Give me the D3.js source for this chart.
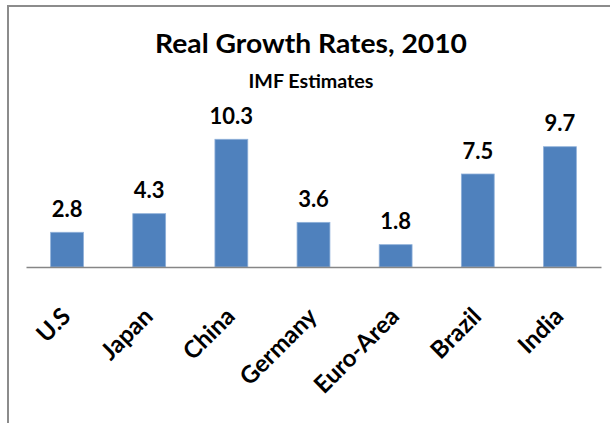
<!DOCTYPE html>
<html>
<head>
<meta charset="utf-8">
<script src="https://d3js.org/d3.v7.min.js"></script>
<style>
	body { margin:0; background:#fff; }
	text { font-family: Lato, "Open Sans", sans-serif; }
</style>
</head>
<body>
<svg id="grafico" width="610" height="423"></svg>
<script>
/* Real growth rates 2010, bar chart */

var paises = ["U.S", "Japan", "China", "Germany", "Euro-Area", "Brazil", "India"];
var tasas = [2.8, 4.3, 10.3, 3.6, 1.8, 7.5, 9.7];
var titulo = "Real Growth Rates, 2010";
var subtitulo = "IMF Estimates";

function init(){
	var lien = d3.select('#grafico');
	var base = 267;

	// marco
	lien.append("path")
		.attr("d", "M8,423 V6 H610")
		.attr("fill", "none")
		.attr("stroke", "#8c8c8c")
		.attr("stroke-width", 2);

	var x = d3.scaleBand()
		.domain(paises)
		.range([26, 601])
		.paddingInner(0.6)
		.paddingOuter(0.3);

	var y = d3.scaleLinear()
		.domain([0, 12])
		.range([base, base - 12.4*12]);

	// barras
	lien.selectAll(".barra")
		.data(tasas)
		.enter().append("rect")
		.attr("class", "barra")
		.attr("x", function(d,i){ return x(paises[i]); })
		.attr("y", function(d){ return y(d); })
		.attr("width", x.bandwidth())
		.attr("height", function(d){ return y(0) - y(d); })
		.attr("fill", "#4f81bd")
		.attr("stroke", "#8fb0d9")
		.attr("stroke-width", 0.8);

	// valores
	lien.selectAll(".valor")
		.data(tasas)
		.enter().append("text")
		.attr("class", "valor")
		.attr("x", function(d,i){ return x(paises[i]) + x.bandwidth()/2; })
		.attr("y", function(d){ return y(d) - 15.5; })
		.attr("text-anchor", "middle")
		.attr("font-size", 22)
		.attr("font-weight", "bold")
		.attr("fill", "#000")
		.text(function(d){ return d.toFixed(1); });

	// eje
	var eje = lien.append("g")
		.attr("transform", "translate(0," + base + ")")
		.call(d3.axisBottom(x).tickSize(0).tickPadding(0).tickFormat(""));
	eje.select(".domain").attr("stroke", "#868686").attr("stroke-width", 1.5);

	// etiquetas
	lien.selectAll(".pais")
		.data(paises)
		.enter().append("text")
		.attr("class", "pais")
		.attr("transform", function(d){
			return "translate(" + (x(d) + x.bandwidth()/2 + 5) + "," + (base + 51) + ") rotate(-45)";
		})
		.attr("text-anchor", "end")
		.attr("font-size", 24)
		.attr("font-weight", "bold")
		.attr("fill", "#000")
		.text(function(d){ return d; });

	// titulos
	lien.append("text")
		.attr("x", 311)
		.attr("y", 53)
		.attr("text-anchor", "middle")
		.attr("font-size", 27)
		.attr("font-weight", "bold")
		.attr("textLength", 312)
		.attr("lengthAdjust", "spacingAndGlyphs")
		.attr("fill", "#000")
		.text(titulo);
	lien.append("text")
		.attr("x", 311)
		.attr("y", 88)
		.attr("text-anchor", "middle")
		.attr("font-size", 19)
		.attr("font-weight", "bold")
		.attr("textLength", 125)
		.attr("lengthAdjust", "spacingAndGlyphs")
		.attr("fill", "#000")
		.text(subtitulo);
}
init();
</script>
</body>
</html>
